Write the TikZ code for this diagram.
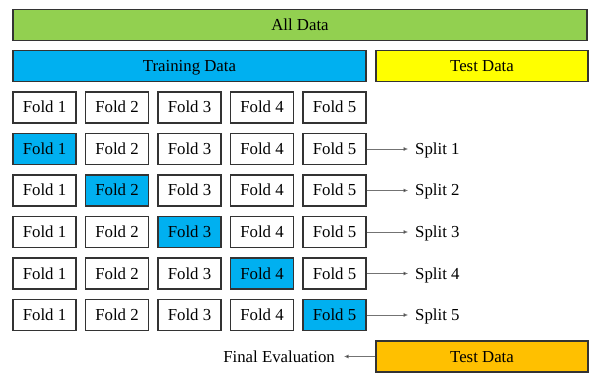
\documentclass[tikz,border=0pt]{standalone}
\usepackage{fontspec}
\setmainfont{Liberation Serif}
\usetikzlibrary{arrows.meta}
\definecolor{alldata}{HTML}{92D050}
\definecolor{traindata}{HTML}{00B0F0}
\definecolor{testdata}{HTML}{FFFF00}
\definecolor{finaldata}{HTML}{FFC000}
\definecolor{edgegray}{HTML}{333333}
\begin{document}
\begin{tikzpicture}[x=1pt,y=-1pt,
  every node/.style={font=\fontsize{16.8}{20}\selectfont,text height=12.5pt,text depth=1.5pt},
  bar/.style={draw=edgegray,line width=1.3pt,minimum height=31pt,inner sep=0pt},
  fold/.style={draw=edgegray,line width=1.3pt,fill=white,minimum width=63pt,minimum height=31pt,inner sep=0pt},
  held/.style={fold,fill=traindata},
  lbl/.style={inner sep=0pt},
  link/.style={draw=black!55,line width=0.7pt,-{Latex[length=4.5pt,width=4pt,fill=black!85]}}]
\useasboundingbox (0,0) rectangle (589,374);
% top-level data bars
\node[bar,fill=alldata,minimum width=574pt] (all) at (300,25) {All Data};
\node[bar,fill=traindata,minimum width=353pt] (train) at (189.5,66) {Training Data};
\node[bar,fill=testdata,minimum width=212pt] (test) at (482,66) {Test Data};
% plain row of folds
\foreach \c in {1,...,5}
  \node[fold] (f0\c) at ({44.5+72.5*(\c-1)},107.5) {Fold \c};
% one row per split, the held-out fold highlighted
\foreach \r in {1,...,5}{
  \foreach \c in {1,...,5}{
    \ifnum\c=\r
      \node[held] (f\r\c) at ({44.5+72.5*(\c-1)},{107.5+41.5*\r}) {Fold \c};
    \else
      \node[fold] (f\r\c) at ({44.5+72.5*(\c-1)},{107.5+41.5*\r}) {Fold \c};
    \fi
  }
  \node[lbl,anchor=west] (s\r) at (415,{107.5+41.5*\r}) {Split \r};
  \draw[link,shorten >=7pt] (f\r5.east) -- (s\r.west);
}
% final evaluation on the test set
\node[bar,fill=finaldata,minimum width=212pt] (final) at (482,356.5) {Test Data};
\node[lbl,anchor=east] (eval) at (335,356.5) {Final Evaluation};
\draw[link,shorten >=9pt] (final.west) -- (eval.east);
\end{tikzpicture}
\end{document}
